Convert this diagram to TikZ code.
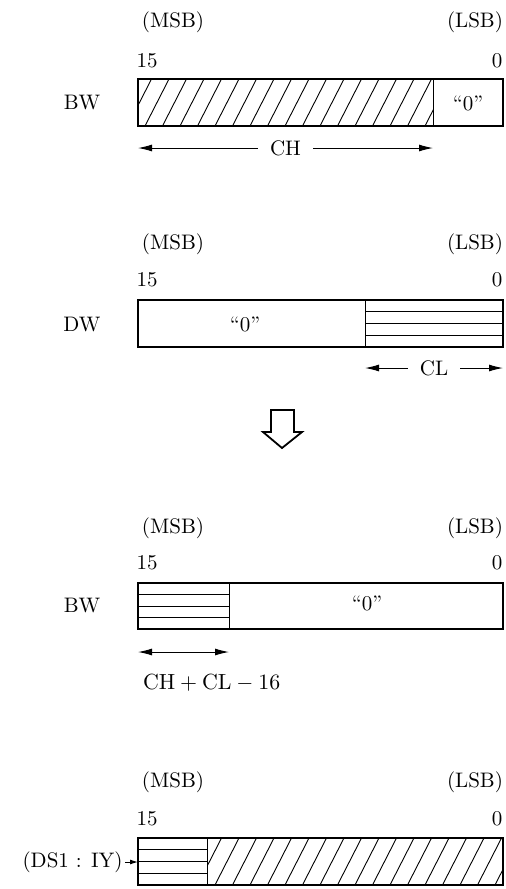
\documentclass[tikz,border=0pt]{standalone}
\usepackage{tikz}
\usetikzlibrary{positioning, calc}
\usetikzlibrary{arrows.meta}

\begin{document}
\begin{tikzpicture}[>={Latex[length=7pt,width=3.5pt]}, x=0.5pt, y=-0.5pt,
    font=\fontsize{10.5}{12.6}\selectfont,
    reg/.style={line width=1.1pt},
    field/.style={line width=0.45pt},
    hatch/.style={line width=0.45pt},
    span/.style={<->, line width=0.5pt},
    gap/.style={fill=white, inner xsep=6pt, inner ysep=1pt}]
\useasboundingbox (0,0) rectangle (506,889);

%------------------------------------------------
% REGISTRO BW: ingresso (campo CH tratteggiato)
%------------------------------------------------
\node (msbA) at (173,22) {(MSB)};
\node (lsbA) at (475,22) {(LSB)};
\node (hiA) at (147,61) {15};
\node (loA) at (497,61) {0};
\node (bwA) at (82,103) {BW};

\coordinate (ulA) at (138,79);
\coordinate (lrA) at (503,126);
\coordinate (divA) at (433,79);

\begin{scope}
  \clip (ulA) rectangle (433,126);
  \foreach \x in {110,127.5,...,450}
    \draw[hatch] (\x,126) -- ++(24,-47);
\end{scope}
\draw[field] (divA) -- (433,126);
\draw[reg] (ulA) rectangle (lrA);
\node (zeroA) at (468,103) {``0''};

% Ampiezza CH
\coordinate (chL) at (138,148);
\coordinate (chR) at (433,148);
\draw[span] (chL) -- node[gap] (ch) {CH} (chR);

%------------------------------------------------
% REGISTRO DW (campo CL a righe)
%------------------------------------------------
\node (msbB) at (173,244) {(MSB)};
\node (lsbB) at (475,244) {(LSB)};
\node (hiB) at (147,280) {15};
\node (loB) at (497,280) {0};
\node (dw) at (82,325) {DW};

\coordinate (ulB) at (138,300);
\coordinate (lrB) at (503,347);
\coordinate (divB) at (365,300);

\foreach \y in {311.75,323.5,335.25}
  \draw[field] (365,\y) -- (503,\y);
\draw[field] (divB) -- (365,347);
\draw[reg] (ulB) rectangle (lrB);
\node (zeroB) at (245,324) {``0''};

% Ampiezza CL
\coordinate (clL) at (365,368);
\coordinate (clR) at (503,368);
\draw[span] (clL) -- node[gap] (cl) {CL} (clR);

% Freccia vuota verso il basso
\draw[line width=0.9pt, line join=miter]
  (271,410) -- (294,410) -- (294,432) -- (302,432) -- (282,448)
  -- (263,432) -- (271,432) -- cycle;

%------------------------------------------------
% REGISTRO BW: risultato
%------------------------------------------------
\node (msbC) at (173,528) {(MSB)};
\node (lsbC) at (475,528) {(LSB)};
\node (hiC) at (147,563) {15};
\node (loC) at (497,563) {0};
\node (bwC) at (82,606) {BW};

\coordinate (ulC) at (138,583);
\coordinate (lrC) at (503,629);
\coordinate (divC) at (229,583);

\foreach \y in {594.5,606,617.5}
  \draw[field] (138,\y) -- (229,\y);
\draw[field] (divC) -- (229,629);
\draw[reg] (ulC) rectangle (lrC);
\node (zeroC) at (367,603) {``0''};

% Ampiezza CH+CL-16
\coordinate (sumL) at (138,652);
\coordinate (sumR) at (229,652);
\draw[span] (sumL) -- (sumR);
\node[right] (sum) at (136,683) {$\mathrm{CH}+\mathrm{CL}-16$};

%------------------------------------------------
% PAROLA (DS1 : IY)
%------------------------------------------------
\node (msbD) at (173,782) {(MSB)};
\node (lsbD) at (475,782) {(LSB)};
\node (hiD) at (147,819) {15};
\node (loD) at (497,819) {0};

\coordinate (ulD) at (138,838);
\coordinate (lrD) at (503,885);
\coordinate (divD) at (207,838);
\coordinate (inD) at (138,862);

\foreach \y in {849.75,861.5,873.25}
  \draw[field] (138,\y) -- (207,\y);
\begin{scope}
  \clip (divD) rectangle (lrD);
  \foreach \x in {180,197.5,...,520}
    \draw[hatch] (\x,885) -- ++(24,-47);
\end{scope}
\draw[field] (divD) -- (207,885);
\draw[reg] (ulD) rectangle (lrD);

\node[left, inner sep=1pt] (ds) at (125,862) {(DS1 : IY)};
\draw[-{Latex[length=4pt,width=2.5pt]}, line width=0.5pt] (ds.east) -- (inD);

\end{tikzpicture}
\end{document}
